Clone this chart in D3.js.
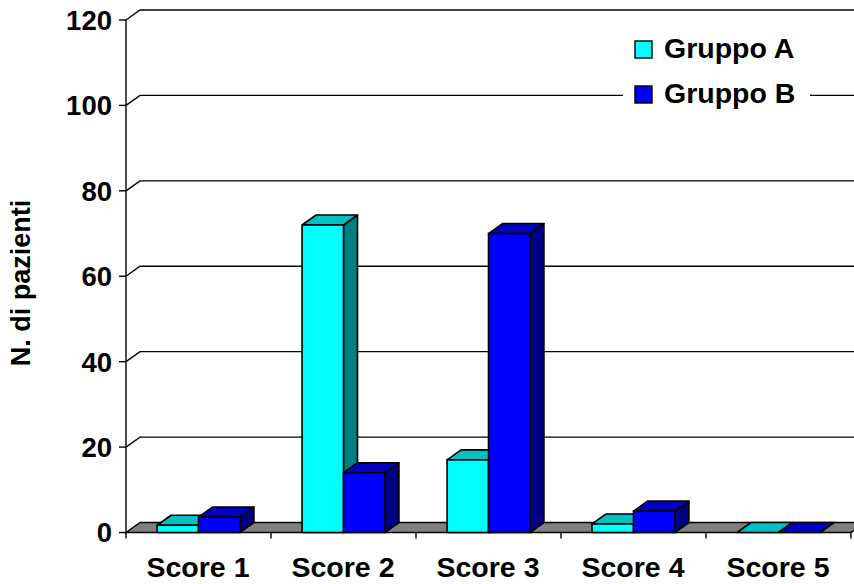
<!DOCTYPE html>
<html><head><meta charset="utf-8">
<script src="https://cdn.jsdelivr.net/npm/d3@7"></script>
<style>html,body{margin:0;padding:0;background:#fff;}svg{display:block;}</style>
</head><body><svg id="c" width="854" height="584"></svg>
<script>
const categories = ["Score 1", "Score 2", "Score 3", "Score 4", "Score 5"];
const seriesNames = ["Gruppo A", "Gruppo B"];
const gruppoA = [1.7, 72, 17, 2, 0];
const gruppoB = [3.6, 14, 70, 5, 0];
const yTicks = [0, 20, 40, 60, 80, 100, 120];

const font = "'Liberation Sans', Arial, sans-serif";
const svg = d3.select("#c");
const W = 854, H = 584;
const dx = 14, dy = -10;
const x0 = 126, x1 = 851;
const y = d3.scaleLinear().domain([0, 120]).range([532.5, 20]);
const x = d3.scaleBand().domain(categories).range([x0, x1]).paddingInner(0).paddingOuter(0);
const bw = x.bandwidth() / 3.5;
const inner = d3.scaleBand().domain(seriesNames).range([0, 2 * bw]);

const colors = {
  "Gruppo A": {front: "#00FFFF", top: "#00C0C0", side: "#008080"},
  "Gruppo B": {front: "#0000FF", top: "#0000C0", side: "#000080"}
};

const g = svg.append("g");
svg.append("defs").append("clipPath").attr("id", "clp")
  .append("rect").attr("x", 0).attr("y", 0).attr("width", W).attr("height", H);

// gridlines (back wall)
const grid = g.append("g").attr("clip-path", "url(#clp)");
yTicks.filter(v => v > 0).forEach(v => {
  const yy = y(v);
  grid.append("path")
    .attr("d", `M${x0},${yy}L${x0 + dx},${yy + dy}L${x1 + dx},${yy + dy}`)
    .attr("fill", "none").attr("stroke", "#000").attr("stroke-width", 1.4);
});

// floor
g.append("path")
  .attr("d", `M${x0},${y(0)}L${x0 + dx},${y(0) + dy}L${x1 + dx},${y(0) + dy}L${x1},${y(0)}Z`)
  .attr("fill", "#808080").attr("stroke", "#000").attr("stroke-width", 1.4);

// legend background + legend
const lg = g.append("g");
lg.append("rect").attr("x", 623).attr("y", 28).attr("width", 187).attr("height", 84).attr("fill", "#fff");
seriesNames.forEach((s, i) => {
  const ly = 41 + i * 45;
  lg.append("rect").attr("x", 635).attr("y", ly).attr("width", 17).attr("height", 17)
    .attr("fill", colors[s].front).attr("stroke", "#000").attr("stroke-width", 1.4);
  lg.append("text").attr("x", 664).attr("y", ly + 16.5).text(s)
    .attr("font-family", font).attr("font-weight", "bold").attr("font-size", 28.5).attr("fill", "#000");
});

// bars
const bars = g.append("g");
const data = [gruppoA, gruppoB];
categories.forEach((c, ci) => {
  seriesNames.forEach((s, si) => {
    const v = data[si][ci];
    const bx = x(c) + (x.bandwidth() - 2 * bw) / 2 + inner(s);
    const top = y(v), bot = y(0);
    const col = colors[s];
    const sw = 1.6;
    bars.append("path")
      .attr("d", `M${bx + bw},${bot}L${bx + bw + dx},${bot + dy}L${bx + bw + dx},${top + dy}L${bx + bw},${top}Z`)
      .attr("fill", col.side).attr("stroke", "#000").attr("stroke-width", sw).attr("stroke-linejoin", "round");
    bars.append("path")
      .attr("d", `M${bx},${top}L${bx + dx},${top + dy}L${bx + bw + dx},${top + dy}L${bx + bw},${top}Z`)
      .attr("fill", col.top).attr("stroke", "#000").attr("stroke-width", sw).attr("stroke-linejoin", "round");
    if (v > 0) {
      bars.append("rect").attr("x", bx).attr("y", top).attr("width", bw).attr("height", bot - top)
        .attr("fill", col.front).attr("stroke", "#000").attr("stroke-width", sw);
    }
  });
});

// y axis
const ya = g.append("g");
ya.append("line").attr("x1", x0).attr("x2", x0).attr("y1", y(120)).attr("y2", y(0) + 6)
  .attr("stroke", "#000").attr("stroke-width", 1.4);
yTicks.forEach(v => {
  ya.append("line").attr("x1", x0 - 7).attr("x2", x0).attr("y1", y(v)).attr("y2", y(v))
    .attr("stroke", "#000").attr("stroke-width", 1.4);
  ya.append("text").attr("x", 112).attr("y", y(v)).attr("dy", "0.36em")
    .attr("text-anchor", "end").text(v)
    .attr("font-family", font).attr("font-weight", "bold").attr("font-size", 27.5).attr("fill", "#000");
});

// x axis ticks and labels
const xa = g.append("g");
categories.forEach((c) => {
  const bx = x(c) + x.bandwidth();
  xa.append("line").attr("x1", bx).attr("x2", bx).attr("y1", y(0)).attr("y2", y(0) + 6)
    .attr("stroke", "#000").attr("stroke-width", 1.4);
  xa.append("text").attr("x", x(c) + x.bandwidth() / 2 - 0.5).attr("y", 577)
    .attr("text-anchor", "middle").text(c)
    .attr("font-family", font).attr("font-weight", "bold").attr("font-size", 28.5).attr("fill", "#000");
});

// y axis title
g.append("text").attr("transform", "translate(30,283) rotate(-90)")
  .attr("text-anchor", "middle").text("N. di pazienti")
  .attr("font-family", font).attr("font-weight", "bold").attr("font-size", 27).attr("fill", "#000");
</script></body></html>
